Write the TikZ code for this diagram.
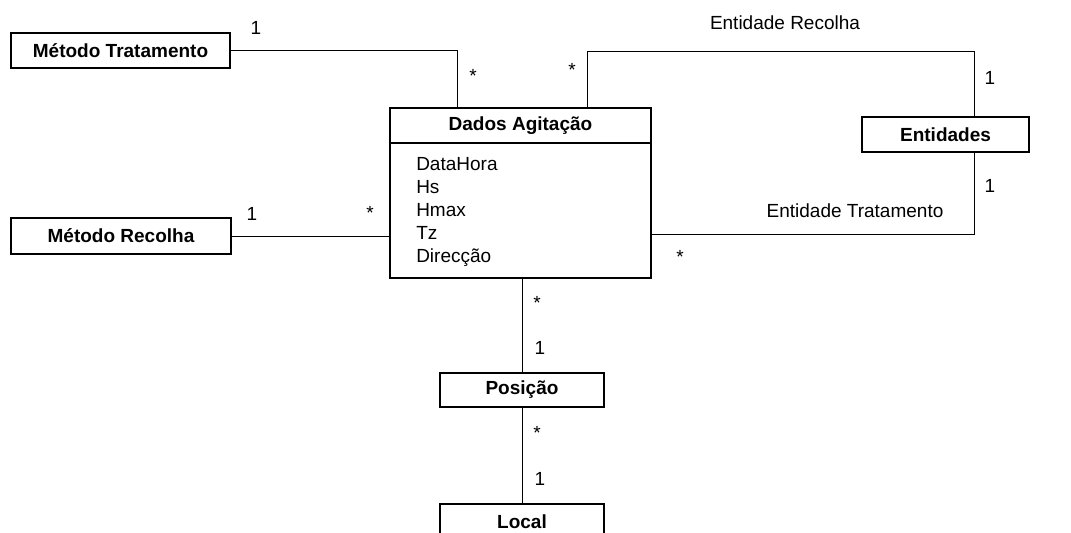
\documentclass[tikz,border=0pt]{standalone}
\usepackage{fontspec}
\setmainfont{Liberation Sans}
\newcommand{\umlfont}{\fontsize{14.25pt}{17.25pt}\selectfont}

\begin{document}
\begin{tikzpicture}[x=0.75pt, y=-0.75pt,
        classe/.style={draw, line width=1.4pt, inner sep=0pt, outer sep=0pt, font=\bfseries\umlfont},
        assoc/.style={line width=0.7pt},
        rotulo/.style={inner sep=0pt, anchor=base, font=\umlfont}]
        \useasboundingbox (0,0) rectangle (1071,532);

        \node[classe, minimum width=164.25pt, minimum height=26.25pt] (mtrat) at (120.5,50.5) {Método Tratamento};
        \node[classe, minimum width=165pt, minimum height=27pt] (mrec) at (121,236) {Método Recolha};
        \node[classe, minimum width=195.75pt, minimum height=26.25pt] (dados) at (520.5,125.5) {Dados Agitação};
        \node[classe, minimum width=195.75pt, minimum height=101.25pt, anchor=north] (dadosattr) at (dados.south) {};
        \node[inner sep=0pt, anchor=north west, align=left, font=\umlfont] (attrs) at (416,157.4) {DataHora\\Hs\\Hmax\\Tz\\Direcção};
        \node[classe, minimum width=125.25pt, minimum height=26.25pt] (ent) at (945.5,134.5) {Entidades};
        \node[classe, minimum width=123pt, minimum height=25.5pt] (pos) at (522,390) {Posição};
        \node[classe, minimum width=123pt, minimum height=26.25pt] (local) at (522,521.5) {Local};

        \draw[assoc] (mtrat.east) -| ([xshift=-47.6pt]dados.north);
        \draw[assoc] ([xshift=49.9pt]dados.north) -- ++(0,-57) -| ([xshift=21.4pt]ent.north);
        \draw[assoc] ([yshift=-17.6pt]dadosattr.east) -| ([xshift=21.4pt]ent.south);
        \draw[assoc] (mrec.east) -- (mrec.east -| dadosattr.west);
        \draw[assoc] (dadosattr.south -| pos.north) -- (pos.north);
        \draw[assoc] (pos.south) -- (local.north);

        \node[rotulo] (umtrat) at (256,34) {1};
        \node[rotulo] (mtratdados) at (473,82) {*};
        \node[rotulo] (recdados) at (572,76) {*};
        \node[rotulo] (entrec) at (785,29) {Entidade Recolha};
        \node[rotulo] (umrec) at (990,84) {1};
        \node[rotulo] (umtratent) at (990,192) {1};
        \node[rotulo] (enttrat) at (855,217) {Entidade Tratamento};
        \node[rotulo] (trataent) at (680,263) {*};
        \node[rotulo] (ummrec) at (252,220) {1};
        \node[rotulo] (mrecdados) at (370,219) {*};
        \node[rotulo] (dadospos) at (537,309) {*};
        \node[rotulo] (umpos) at (540,354) {1};
        \node[rotulo] (poslocal) at (537,439) {*};
        \node[rotulo] (umlocal) at (540,485) {1};
    \end{tikzpicture}
\end{document}
